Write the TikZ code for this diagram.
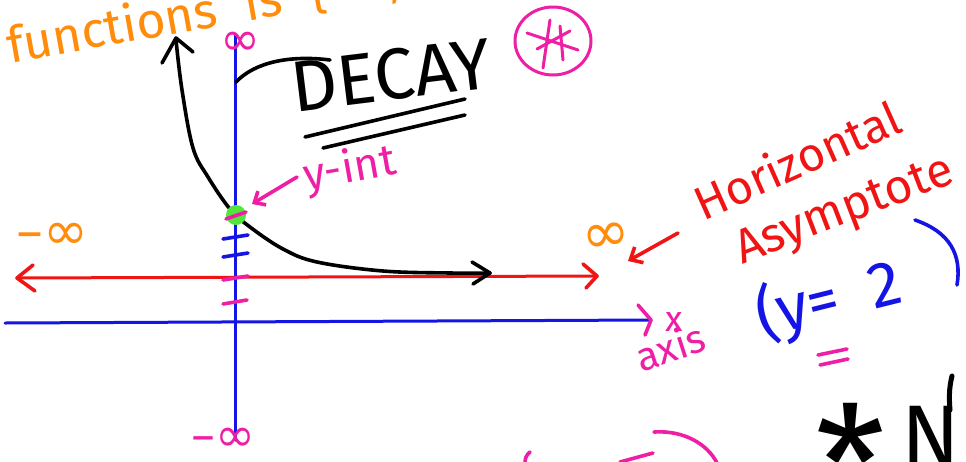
\documentclass[tikz,border=0pt]{standalone}
\usepackage{fontspec}
\setmainfont{Fira Sans}
\newfontfamily\dv{DejaVu Sans}
\usetikzlibrary{arrows.meta}
\definecolor{orng}{RGB}{255,140,10}
\definecolor{pnk}{RGB}{238,30,165}
\definecolor{rd}{RGB}{240,20,20}
\definecolor{blu}{RGB}{20,20,228}
\definecolor{grn}{RGB}{80,230,60}
\newcommand{\fs}[1]{\fontsize{#1}{#1}\selectfont}
\begin{document}
\begin{tikzpicture}[x=1pt,y=-1pt,
  ink/.style={line width=3.6pt, line cap=round, line join=round},
  axis/.style={line width=3pt, line cap=round},
  txt/.style={inner sep=0pt, outer sep=0pt}]
\useasboundingbox (0,0) rectangle (966,461);
\clip (0,0) rectangle (966,461);
\fill[white] (0,0) rectangle (966,461);

% top-left orange text
\node[txt, orng, font=\fs{50}, anchor=base west, rotate=10] (fn) at (10,63) {functions\hspace{0.3em} is\hspace{0.3em} \{-{\dv ∞},};

% y axis
\coordinate (ytop) at (235,35);
\coordinate (ybot) at (235,440);
\draw[axis, blu] (ytop) -- (ybot);
\node[txt, pnk, font=\dv\fs{48}] (yinf) at (240,44) {∞};
\node[txt, pnk, font=\dv\fs{48}] (yminf) at (223,440) {–∞};

% red asymptote line
\coordinate (rl) at (17,278);
\coordinate (rr) at (597,276);
\draw[axis, rd] (rl) -- (rr);
\draw[ink, rd] (33,265) -- (rl) -- (35,291);
\draw[ink, rd] (583,264) -- (rr) -- (586,288);
\node[txt, orng, font=\dv\fs{54}] (linf) at (52,236) {–∞};
\node[txt, orng, font=\dv\fs{58}, rotate=8] (rinf) at (606,238) {∞};

% x axis
\coordinate (xl) at (5,323);
\coordinate (xr) at (651,320);
\draw[axis, blu] (xl) -- (xr);
\draw[ink, pnk] (638,305) -- (xr) -- (645,335);
\node[txt, pnk, font=\fs{36}] (xlab) at (674,322) {x};
\node[txt, pnk, font=\fs{40}, anchor=base west, rotate=18] (axlab) at (641,372) {axis};

% decay curve
\draw[ink] plot[smooth, tension=0.6] coordinates {(176,40) (182,90) (193,148) (208,177) (230,209) (250,227) (283,249) (317,262) (383,271) (450,273) (490,273)};
\draw[ink] (162,63) -- (176,38) -- (193,52);
\draw[ink] (472,262) -- (490,273) -- (473,284);

% y-intercept
\fill[grn] (236,215) circle (10);
\draw[ink, pnk] (226,219) -- (246,212);
\draw[ink, blu] (223,239) -- (248,235);
\draw[ink, blu] (223,257) -- (248,253);
\draw[ink, pnk] (223,280) -- (248,276);
\draw[ink, pnk] (223,304) -- (247,300);
\coordinate (yia) at (297,177);
\coordinate (yib) at (252,204);
\draw[ink, pnk, -{Straight Barb[length=9pt,width=16pt]}] (yia) -- (yib);
\node[txt, pnk, font=\fs{44}, anchor=base west, rotate=10] (yint) at (306,190) {y-int};

% DECAY title
\draw[ink] (236,82) .. controls (255,62) and (290,55) .. (330,60);
\node[txt, font=\fs{72}, anchor=base west, rotate=7] (decay) at (294,112) {DECAY};
\draw[ink] (305,137) -- (465,99);
\draw[ink] (323,148) -- (465,115);

% pink circled asterisk
\draw[ink, pnk, line width=3pt] (553,41) ellipse (38 and 34);
\draw[ink, pnk, line width=3pt] (527,33) -- (578,50);
\draw[ink, pnk, line width=3pt] (550,20) -- (543,68);
\draw[ink, pnk, line width=3pt] (537,49) -- (570,31);
\draw[ink, pnk, line width=3pt] (560,26) -- (563,60);

% horizontal asymptote label
\coordinate (ra) at (678,233);
\coordinate (rb) at (628,261);
\draw[ink, rd, -{Straight Barb[length=10pt,width=18pt]}] (ra) -- (rb);
\node[txt, rd, font=\fs{47}, anchor=base west, rotate=24] (hz) at (703,221) {Horizontal};
\node[txt, rd, font=\fs{48}, anchor=base west, rotate=21] (asy) at (742,264) {Asymptote};

% (y = 2
\node[txt, blu, font=\fs{64}, anchor=base west, rotate=14] (eq) at (762,338) {(y=\,\,\,2};
\draw[ink, blu] (915,220) .. controls (950,232) and (962,255) .. (957,285);
\draw[ink, pnk] (818,355) -- (847,349);
\draw[ink, pnk] (820,365) -- (848,359);

% bottom fragments
\draw[ink, pnk] (530,452) .. controls (526,455) and (525,459) .. (525,463);
\draw[ink, pnk] (620,462) -- (653,453);
\draw[ink, pnk] (654,432) .. controls (685,430) and (708,445) .. (717,463);
\node[txt, font=\fs{86}, anchor=base west] (nn) at (815,465) {\raisebox{-56pt}{\fs{160}*}\hspace{16pt}N};
\draw[ink, line width=5pt] (952,376) .. controls (949,388) and (949,398) .. (950,410);
\end{tikzpicture}
\end{document}
